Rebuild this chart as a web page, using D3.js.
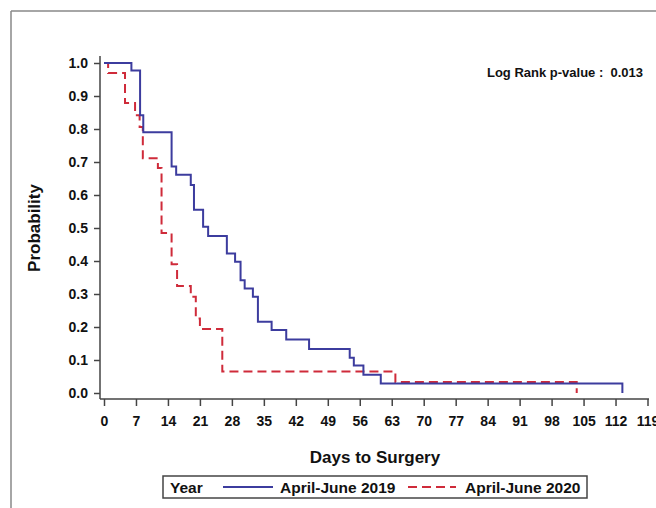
<!DOCTYPE html>
<html>
<head>
<meta charset="utf-8">
<script src="https://cdn.jsdelivr.net/npm/d3@7"></script>
<style>
  body { margin: 0; background: #fff; }
  text { font-family: "Liberation Sans", Arial, sans-serif; font-weight: bold; fill: #111; }
</style>
</head>
<body>
<svg id="chart" width="656" height="508"></svg>
<script>
// step points: [day, survival probability]
var days2019 = [0, 6, 7.9, 8.6, 14.8, 15.8, 19, 19.7, 21.7, 22.8, 26.9, 28.7, 29.9, 30.8, 32.6, 33.7, 36.7, 39.9, 44.9, 53.8, 54.7, 56.8, 60.6, 113.5];
var prob2019 = [1.0, 0.977, 0.842, 0.79, 0.686, 0.661, 0.63, 0.555, 0.504, 0.476, 0.423, 0.398, 0.342, 0.317, 0.292, 0.216, 0.191, 0.162, 0.133, 0.107, 0.083, 0.055, 0.029, 0.0];

var days2020 = [0, 0.9, 4.6, 6.8, 7.8, 8.5, 11.8, 12.6, 14.8, 16, 19, 20.1, 21, 25.9, 63.8, 103.5];
var prob2020 = [1.0, 0.97, 0.879, 0.842, 0.806, 0.711, 0.682, 0.485, 0.39, 0.324, 0.292, 0.226, 0.194, 0.065, 0.033, 0.0];

var xTicks = [0, 7, 14, 21, 28, 35, 42, 49, 56, 63, 70, 77, 84, 91, 98, 105, 112, 119];
var yTicks = [0, 0.1, 0.2, 0.3, 0.4, 0.5, 0.6, 0.7, 0.8, 0.9, 1.0];
var seriesNames = ["April-June 2019", "April-June 2020"];
var pValueText = "Log Rank p-value :  0.013";

var BLUE = "#3c3c9e";
var RED = "#cf2b3a";

var svg = d3.select("#chart");

//outer frame (only top and left are visible)
svg.append("line").attr("x1", 11).attr("y1", 11).attr("x2", 656).attr("y2", 11)
	.attr("stroke", "#888").attr("stroke-width", 1.5);
svg.append("line").attr("x1", 11).attr("y1", 11).attr("x2", 11).attr("y2", 508)
	.attr("stroke", "#888").attr("stroke-width", 1.5);

var x = d3.scaleLinear().domain([0, 119]).range([104, 647.5]);
var y = d3.scaleLinear().domain([0, 1]).range([393, 63]);

//axes
var xAxis = svg.append("g")
	.attr("transform", "translate(0,399)")
	.call(d3.axisBottom(x).tickValues(xTicks).tickSize(7).tickSizeOuter(0).tickPadding(10));
xAxis.select(".domain").attr("d", "M100,0H649");

var yAxis = svg.append("g")
	.attr("transform", "translate(100,0)")
	.call(d3.axisLeft(y).tickValues(yTicks).tickSize(6).tickSizeOuter(0).tickPadding(6)
		.tickFormat(d3.format(".1f")));
yAxis.select(".domain").attr("d", "M0,56V399");

svg.selectAll(".domain, .tick line").attr("stroke", "#444").attr("stroke-width", 1.5);
svg.selectAll(".tick text").attr("font-size", 14).attr("fill", "#111");

//axis titles
svg.append("text")
	.attr("x", 375).attr("y", 463)
	.attr("text-anchor", "middle")
	.attr("font-size", 17)
	.text("Days to Surgery");

svg.append("text")
	.attr("transform", "translate(40,228) rotate(-90)")
	.attr("text-anchor", "middle")
	.attr("font-size", 17)
	.text("Probability");

svg.append("text")
	.attr("x", 643).attr("y", 77)
	.attr("text-anchor", "end")
	.attr("font-size", 13)
	.attr("xml:space", "preserve")
	.text(pValueText);

//curves
var line = d3.line()
	.x(function(d) { return x(d[0]); })
	.y(function(d) { return y(d[1]); })
	.curve(d3.curveStepAfter);

svg.append("path")
	.datum(d3.zip(days2020, prob2020))
	.attr("d", line)
	.attr("fill", "none")
	.attr("stroke", RED)
	.attr("stroke-width", 2)
	.attr("stroke-dasharray", "9,5");

svg.append("path")
	.datum(d3.zip(days2019, prob2019))
	.attr("d", line)
	.attr("fill", "none")
	.attr("stroke", BLUE)
	.attr("stroke-width", 2);

//legend
var legend = svg.append("g").attr("transform", "translate(163,476)");
legend.append("rect")
	.attr("width", 424).attr("height", 22)
	.attr("fill", "none").attr("stroke", "#444").attr("stroke-width", 1.5);
legend.append("text").attr("x", 7).attr("y", 17).attr("font-size", 15.5).text("Year");
legend.append("line").attr("x1", 60).attr("x2", 110).attr("y1", 11).attr("y2", 11)
	.attr("stroke", BLUE).attr("stroke-width", 2);
legend.append("text").attr("x", 117).attr("y", 17).attr("font-size", 15.5).text(seriesNames[0]);
legend.append("line").attr("x1", 245).attr("x2", 293).attr("y1", 11).attr("y2", 11)
	.attr("stroke", RED).attr("stroke-width", 2).attr("stroke-dasharray", "9,5");
legend.append("text").attr("x", 302).attr("y", 17).attr("font-size", 15.5).text(seriesNames[1]);
</script>
</body>
</html>
